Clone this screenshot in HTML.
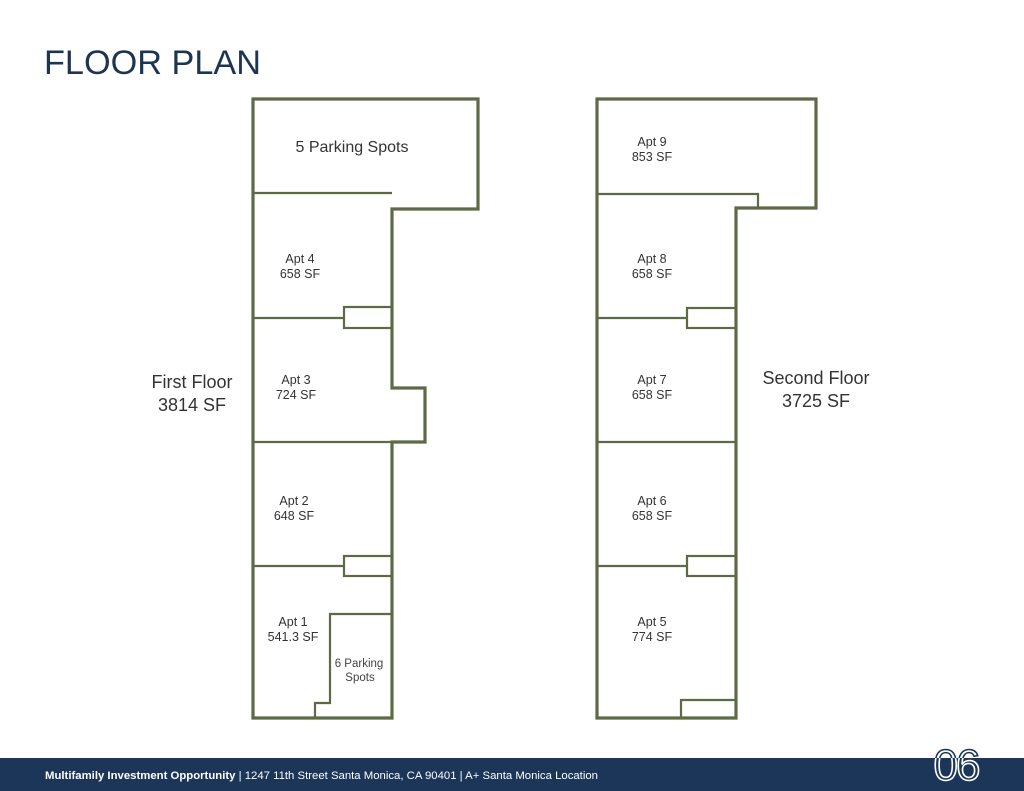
<!DOCTYPE html>
<html><head><meta charset="utf-8"><style>
html,body{margin:0;padding:0;background:#fff;}
body{width:1024px;height:791px;overflow:hidden;position:relative;font-family:"Liberation Sans",sans-serif;}
</style></head><body>
<svg width="1024" height="791" viewBox="0 0 1024 791" xmlns="http://www.w3.org/2000/svg" style="position:absolute;left:0;top:0">
<rect x="0" y="0" width="1024" height="791" fill="#fff"/>
<text x="44" y="74" font-family="Liberation Sans, sans-serif" font-size="34" fill="#1d3553" textLength="217" lengthAdjust="spacingAndGlyphs">FLOOR PLAN</text>

<g fill="none" stroke="#5e6946" stroke-linejoin="miter">
 <path d="M253 99 H478 V209 H392 V388 H425 V442 H392 V718 H253 Z" stroke-width="3.2"/>
 <g stroke-width="2.2">
  <path d="M253 193 H392"/>
  <path d="M253 318 H344"/>
  <rect x="344" y="307" width="48" height="21"/>
  <path d="M253 442 H392"/>
  <path d="M253 566 H344"/>
  <rect x="344" y="556" width="48" height="20"/>
  <path d="M392 614 H330 V703 H315 V718"/>
 </g>
 <path d="M597 99 H816 V208 H736 V718 H597 Z" stroke-width="3.2"/>
 <g stroke-width="2.2">
  <path d="M597 194 H736"/>
  <path d="M736 194 H758 V208"/>
  <path d="M597 318 H687"/>
  <rect x="687" y="308" width="49" height="20"/>
  <path d="M597 442 H736"/>
  <path d="M597 566 H687"/>
  <rect x="687" y="556" width="49" height="20"/>
  <path d="M681 718 V700 H736"/>
 </g>
</g>

<g font-family="Liberation Sans, sans-serif" fill="#333" text-anchor="middle" font-size="12.5">
 <text x="352" y="152" font-size="16">5 Parking Spots</text>
 <text x="300" y="263">Apt 4</text><text x="300" y="278">658 SF</text>
 <text x="296" y="384">Apt 3</text><text x="296" y="399">724 SF</text>
 <text x="294" y="505">Apt 2</text><text x="294" y="520">648 SF</text>
 <text x="293" y="626">Apt 1</text><text x="293" y="641">541.3 SF</text>
 <text x="359" y="667" font-size="11.5" fill="#444">6 Parking</text><text x="360" y="681" font-size="11.5" fill="#444">Spots</text>
 <text x="652" y="146">Apt 9</text><text x="652" y="161">853 SF</text>
 <text x="652" y="263">Apt 8</text><text x="652" y="278">658 SF</text>
 <text x="652" y="384">Apt 7</text><text x="652" y="399">658 SF</text>
 <text x="652" y="505">Apt 6</text><text x="652" y="520">658 SF</text>
 <text x="652" y="626">Apt 5</text><text x="652" y="641">774 SF</text>
 <text x="192" y="388" font-size="18">First Floor</text>
 <text x="192" y="411" font-size="18">3814 SF</text>
 <text x="816" y="384" font-size="18">Second Floor</text>
 <text x="816" y="407" font-size="18">3725 SF</text>
</g>

<rect x="0" y="758" width="1024" height="33" fill="#1b3659"/>
<text x="45" y="779" font-family="Liberation Sans, sans-serif" font-size="11" fill="#fff" textLength="553" lengthAdjust="spacingAndGlyphs"><tspan font-weight="bold">Multifamily Investment Opportunity</tspan> | 1247 11th Street Santa Monica, CA 90401 | A+ Santa Monica Location</text>
<defs><clipPath id="top"><rect x="900" y="730" width="120" height="28"/></clipPath><clipPath id="bot"><rect x="900" y="758" width="120" height="33"/></clipPath></defs>
<text x="956" y="780" text-anchor="middle" font-family="Liberation Sans, sans-serif" font-size="44" fill="none" stroke="#1b3659" stroke-width="1.6" clip-path="url(#top)" letter-spacing="-2">06</text>
<text x="956" y="780" text-anchor="middle" font-family="Liberation Sans, sans-serif" font-size="44" fill="none" stroke="#fff" stroke-width="1.6" clip-path="url(#bot)" letter-spacing="-2">06</text>
</svg>
</body></html>
